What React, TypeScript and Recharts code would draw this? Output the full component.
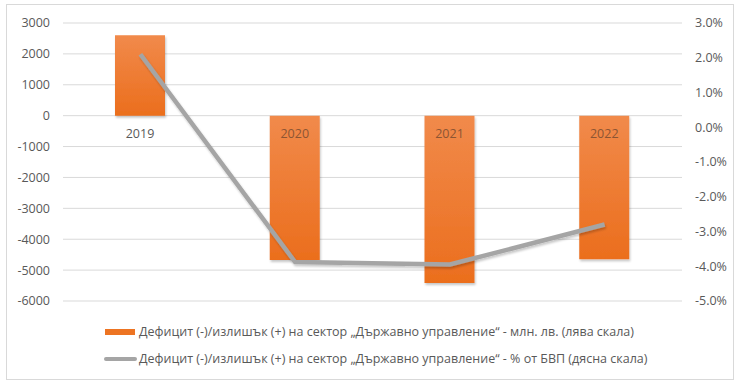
import React from 'react';
import {
  ComposedChart,
  Bar,
  Line,
  XAxis,
  YAxis,
  CartesianGrid,
  Legend,
  LabelList,
} from 'recharts';

const years = ['2019', '2020', '2021', '2022'];
const deficitMln = [2600, -4670, -5420, -4650];
const deficitPct = [2.1, -3.88, -3.95, -2.8];
const leftTicks = [3000, 2000, 1000, 0, -1000, -2000, -3000, -4000, -5000, -6000];
const rightTicks = [3, 2, 1, 0, -1, -2, -3, -4, -5];

const barName = 'Дефицит (-)/излишък (+) на сектор „Държавно управление“ - млн. лв. (лява скала)';
const lineName = 'Дефицит (-)/излишък (+) на сектор „Държавно управление“ - % от БВП (дясна скала)';

const data = years.map((year, i) => ({
  year,
  mln: deficitMln[i],
  pct: deficitPct[i],
}));

const FONT = '"Open Sans", sans-serif';
const TEXT = '#595959';

const YearLabel = (props: any) => {
  const { x, y, width, height, value, index } = props;
  const v = deficitMln[index];
  let zero: number;
  if (v >= 0) zero = y + height;
  else zero = height < 0 ? y + height : y;
  return (
    <text
      x={x + width / 2}
      y={zero + 18}
      textAnchor="middle"
      dominantBaseline="central"
      fontFamily={FONT}
      fontSize={12.5}
      fill={v >= 0 ? TEXT : '#8c5533'}
    >
      {value}
    </text>
  );
};

const LegendBox = () => (
  <div style={{ paddingTop: 17, paddingLeft: 104, fontFamily: FONT, fontSize: 12.5, color: TEXT, textAlign: 'left' }}>
    <div style={{ height: 27, display: 'flex', alignItems: 'center' }}>
      <span style={{ display: 'inline-block', width: 30, height: 6, background: '#ed7422', marginLeft: 1, marginRight: 4 }} />
      <span>{barName}</span>
    </div>
    <div style={{ height: 27, display: 'flex', alignItems: 'center' }}>
      <span style={{ display: 'inline-block', width: 33, height: 4, borderRadius: 2, background: '#a5a5a5', marginRight: 2 }} />
      <span>{lineName}</span>
    </div>
  </div>
);

export default function App() {
  return (
    <div style={{ position: 'fixed', left: 0, top: 0, width: 740, height: 386, background: '#fff' }}>
      <div
        style={{
          position: 'absolute',
          left: 6,
          top: 4,
          width: 726,
          height: 374,
          border: '1px solid #d9d9d9',
        }}
      />
      <ComposedChart
        width={740}
        height={386}
        data={data}
        margin={{ top: 23, right: 0, bottom: 14, left: 0 }}
        barCategoryGap={0}
      >
        <defs>
          <linearGradient id="barFill" x1="0" y1="0" x2="0" y2="1">
            <stop offset="0%" stopColor="#f18a4b" />
            <stop offset="100%" stopColor="#eb6e1d" />
          </linearGradient>
          <filter id="shadow" x="-20%" y="-20%" width="140%" height="140%">
            <feDropShadow dx="1" dy="2" stdDeviation="1.2" floodColor="#000" floodOpacity="0.22" />
          </filter>
        </defs>
        <CartesianGrid yAxisId="left" vertical={false} stroke="#d9d9d9" />
        <XAxis dataKey="year" hide />
        <YAxis
          yAxisId="left"
          domain={[-6000, 3000]}
          ticks={leftTicks}
          width={63}
          axisLine={false}
          tickLine={false}
          tickMargin={7}
          tick={{ fill: TEXT, fontSize: 12.5, fontFamily: FONT }}
        />
        <YAxis
          yAxisId="right"
          orientation="right"
          domain={[-5, 3]}
          ticks={rightTicks}
          width={58}
          axisLine={false}
          tickLine={false}
          tickMargin={7}
          tickFormatter={(v: number) => `${v.toFixed(1)}%`}
          tick={{ fill: TEXT, fontSize: 12.5, fontFamily: FONT }}
        />
        <Legend verticalAlign="bottom" content={<LegendBox />} />
        <Bar
          yAxisId="left"
          dataKey="mln"
          name={barName}
          barSize={50}
          fill="url(#barFill)"
          filter="url(#shadow)"
          isAnimationActive={false}
        >
          <LabelList dataKey="year" content={<YearLabel />} />
        </Bar>
        <Line
          yAxisId="right"
          dataKey="pct"
          name={lineName}
          type="linear"
          stroke="#a5a5a5"
          strokeWidth={4.5}
          dot={false}
          activeDot={false}
          filter="url(#shadow)"
          isAnimationActive={false}
        />
      </ComposedChart>
    </div>
  );
}
